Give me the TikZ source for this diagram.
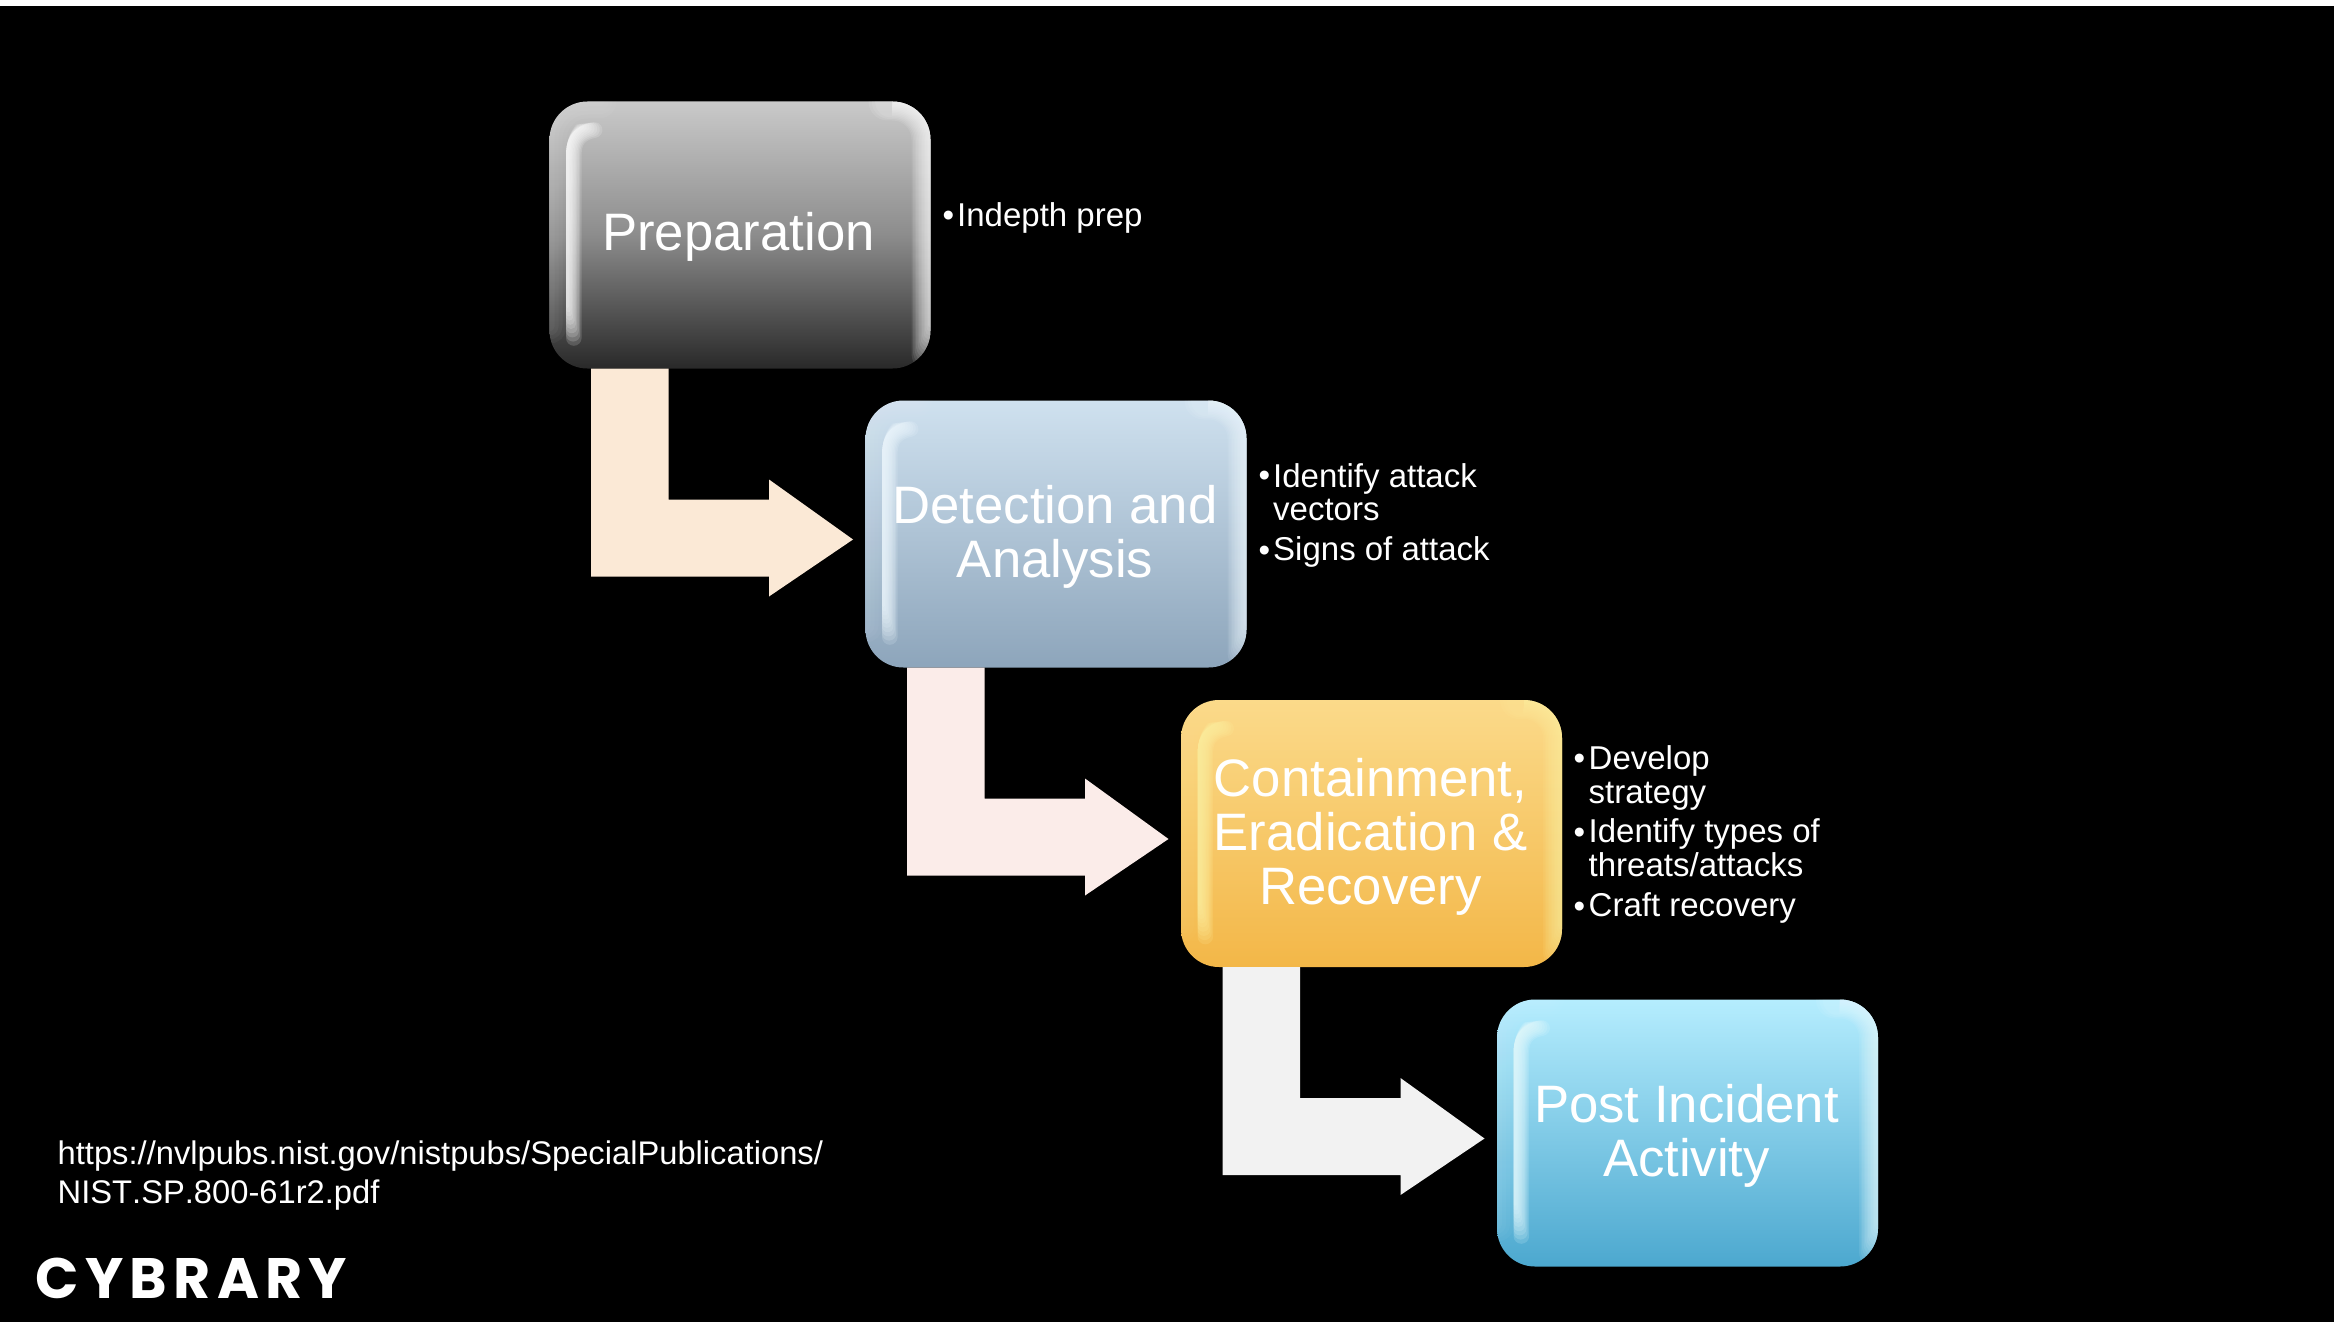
\documentclass[tikz,border=0pt]{standalone}
\usepackage{fontspec}
\usetikzlibrary{calc}
\setmainfont{Liberation Sans}
\newfontfamily\logofont[LetterSpace=11]{Poppins}
\definecolor{arrowA}{HTML}{FBE9D6}
\definecolor{arrowB}{HTML}{FBECE9}
\definecolor{arrowC}{HTML}{F2F2F2}
\definecolor{hlA}{HTML}{FFFFFF}
\definecolor{hlB}{HTML}{EFF9FF}
\definecolor{hlC}{HTML}{FFF0A0}
\definecolor{hlD}{HTML}{E6FBFF}
\tikzset{
  glossbox/.style={minimum width=381bp,minimum height=267bp,inner sep=0pt,outer sep=0pt,rounded corners=38bp,anchor=north west},
  title/.style={text=white,align=center,inner sep=0pt,font=\fontsize{52.7bp}{54bp}\selectfont},
  bullet/.style={text=white,inner sep=0pt,anchor=base,font=\fontsize{33bp}{33.5bp}\selectfont},
  item/.style={text=white,inner sep=0pt,align=left,anchor=north west,font=\fontsize{33bp}{33.7bp}\selectfont},
  url/.style={text=white,inner sep=0pt,align=left,anchor=north west,font=\fontsize{32.7bp}{39.5bp}\selectfont},
}
\newcommand{\glossoverlay}[2]{%
  \begin{scope}[shift={(#1.north west)}]
    \clip[rounded corners=38bp] (0,0) rectangle (381,267);
    % left rim
    \foreach \w in {34,26,18,10}
      \draw[#2,draw opacity=.035,line width=\w bp,line cap=round,rounded corners=38bp] (50,0) -- (0,0) -- (0,225);
    % left crescent highlight
    \foreach \i in {0,...,9}{
      \pgfmathsetmacro{\wid}{3+1.4*\i}
      \pgfmathsetmacro{\cen}{16.5+\wid/2}
      \pgfmathsetmacro{\ybot}{205+3.5*\i}
      \pgfmathsetmacro{\xend}{\cen+10+1.2*\i}
      \pgfmathsetmacro{\yend}{24+0.5*\i}
      \draw[#2,draw opacity=.16,line width=\wid bp,line cap=round]
        (\cen,\ybot) -- (\cen,54) .. controls (\cen,42) and (\cen+3,32) .. (\xend,\yend);
    }
    % right rim
    \foreach \i in {0,...,11}{
      \pgfmathsetmacro{\wid}{38-3*\i}
      \pgfmathsetmacro{\xst}{338+1.8*\i}
      \pgfmathsetmacro{\yst}{252-2.6*\i}
      \draw[#2,draw opacity=.095,line width=\wid bp,line cap=round,rounded corners=38bp]
        (\xst,0) -- (381,0) -- (381,\yst);
    }
  \end{scope}}
\newcommand{\bentarrow}[3]{%
  \fill[#3] ($(#1.south west)+(41.5,0)$) -- ($(#1.south west)+(119,0)$) -- ($(#1.south west)+(119,131)$)
    -- ($(#1.south west)+(219.5,131)$) -- ($(#1.south west)+(219.5,111)$) -- ($(#2.west)+(-12.5,5.5)$)
    -- ($(#1.south west)+(219.5,228)$) -- ($(#1.south west)+(219.5,208)$) -- ($(#1.south west)+(41.5,208)$) -- cycle;}
\begin{document}
\begin{tikzpicture}[x=1bp,y=-1bp]
\useasboundingbox (0,0) rectangle (2334,1322);
\fill[black] (0,0) rectangle (2334,1322);
\fill[white] (0,0) rectangle (2334,6);
% boxes
\node[glossbox,top color=black!21,bottom color=black!84,middle color=black!45] (prep) at (549.5,101.5) {};
\node[glossbox,top color={rgb,255:red,207;green,225;blue,239},bottom color={rgb,255:red,141;green,165;blue,187}] (detect) at (865.5,400.5) {};
\node[glossbox,top color={rgb,255:red,251;green,218;blue,138},bottom color={rgb,255:red,243;green,183;blue,72}] (contain) at (1181,700) {};
\node[glossbox,top color={rgb,255:red,181;green,237;blue,254},bottom color={rgb,255:red,76;green,168;blue,207}] (post) at (1497,999.5) {};
% arrows
\bentarrow{prep}{detect}{arrowA}
\bentarrow{detect}{contain}{arrowB}
\bentarrow{contain}{post}{arrowC}
% highlights
\glossoverlay{prep}{hlA}
\glossoverlay{detect}{hlB}
\glossoverlay{contain}{hlC}
\glossoverlay{post}{hlD}
% titles
\node[title] (prepT) at ($(prep.center)+(-1.5,2)$) {Preparation};
\node[title] (detectT) at ($(detect.center)+(-1,3)$) {Detection and\\Analysis};
\node[title] (containT) at ($(contain.center)+(-1,3)$) {Containment,\\Eradication \&\\Recovery};
\node[title] (postT) at ($(post.center)+(-1,3)$) {Post Incident\\Activity};
% bullet lists
\node[bullet] (b1) at (948.5,226.4) {•};
\node[item] (t1) at (957,202) {Indepth prep};
\node[bullet] (b2) at (1264.5,486.8) {•};
\node[item] (t2) at (1273,463) {Identify attack\\vectors};
\node[bullet] (b3) at (1264.5,561) {•};
\node[item] (t3) at (1273,536.6) {Signs of attack};
\node[bullet] (b4) at (1579.5,769.5) {•};
\node[item] (t4) at (1588.5,745.6) {Develop\\strategy};
\node[bullet] (b5) at (1579.5,843) {•};
\node[item] (t5) at (1588.5,818.6) {Identify types of\\threats/attacks};
\node[bullet] (b6) at (1579.5,917) {•};
\node[item] (t6) at (1588.5,892.6) {Craft recovery};
% source
\node[url] (src) at (57.5,1140.5) {https://nvlpubs.nist.gov/nistpubs/SpecialPublications/\\\addfontfeatures{Kerning=Off}NIST.SP.800-61r2.pdf};
% logo
\node[text=white,inner sep=0pt,anchor=base west,font=\logofont\bfseries\fontsize{57bp}{57bp}\selectfont] (logo) at (35.5,1298) {CYBRARY};
\end{tikzpicture}
\end{document}
